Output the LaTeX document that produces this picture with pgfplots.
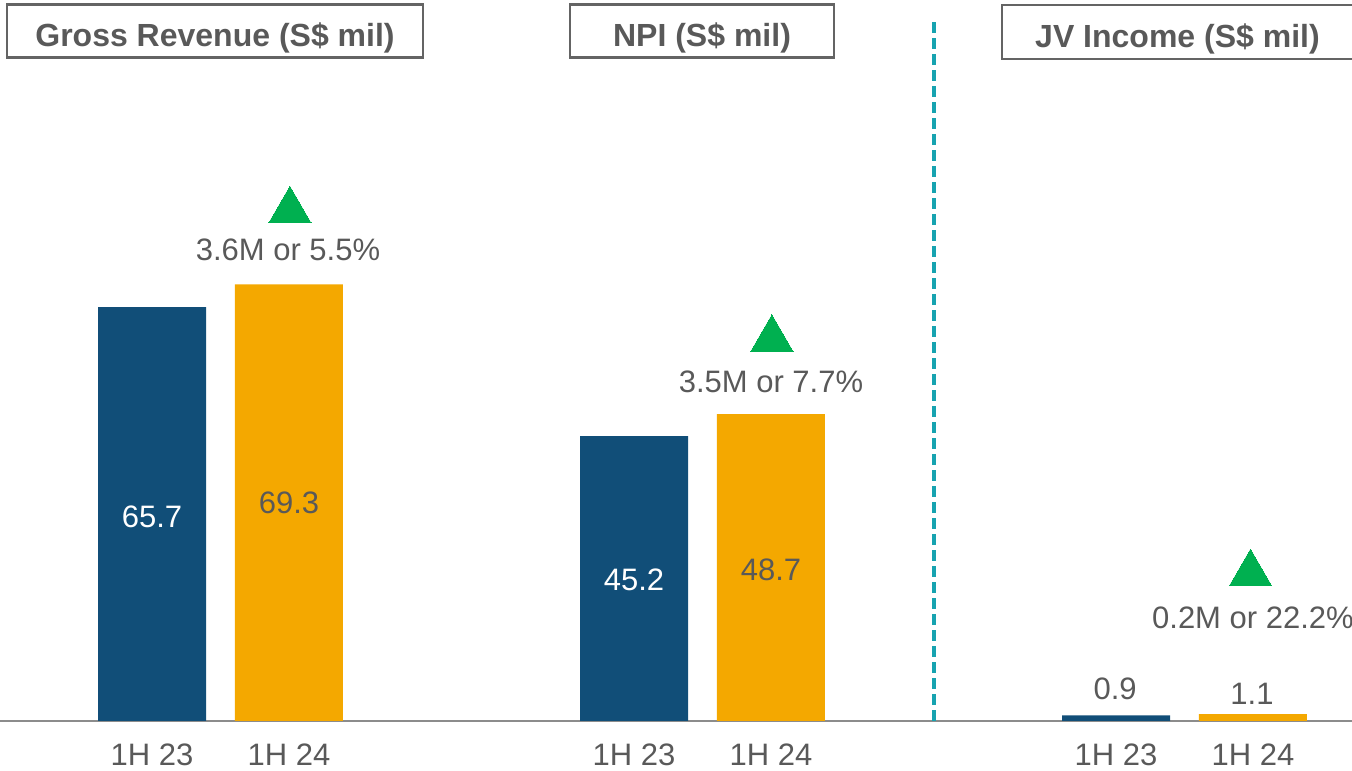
\documentclass[border=0pt]{standalone}
\usepackage{fontspec}
\setmainfont{Liberation Sans}
\usepackage{pgfplots}
\pgfplotsset{compat=1.18}
\definecolor{navy}{RGB}{17,78,120}
\definecolor{amber}{RGB}{244,168,0}
\definecolor{upgreen}{RGB}{0,176,80}
\definecolor{tealdash}{RGB}{23,163,176}
\definecolor{txtgray}{RGB}{89,89,89}
\definecolor{boxgray}{RGB}{100,100,100}
\newcommand{\lbl}{\fontsize{15.5}{18}\selectfont}
\newcommand{\ttl}{\fontsize{16}{19}\selectfont\bfseries}
\tikzset{titlebox/.style={draw=boxgray, line width=1.2pt, minimum height=26.5pt,
    text height=15.4pt, text depth=0pt, font=\ttl, text=txtgray}}
\begin{document}
\begin{tikzpicture}
\begin{axis}[
    scale only axis,
    width=676pt, height=385.5pt,
    xmin=-0.4575, xmax=2.3475,
    ymin=-7.937, ymax=114.44,
    axis x line=middle, axis y line=none,
    axis line style={-, draw=gray!90, line width=0.8pt},
    xtick={-0.142,0.142,0.858,1.142,1.858,2.142},
    xticklabels={1H 23,1H 24,1H 23,1H 24,1H 23,1H 24},
    major tick length=0pt,
    xticklabel style={anchor=base, yshift=-22.5pt, font=\lbl, text=txtgray},
    clip=false,
]
% 1H 23
\addplot[ybar, bar width=0.2241, fill=navy, draw=none]
    coordinates {(-0.142,65.7) (0.858,45.2) (1.858,0.9)};
% 1H 24
\addplot[ybar, bar width=0.2241, fill=amber, draw=none]
    coordinates {(0.142,69.3) (1.142,48.7) (2.142,1.1)};
% growth markers
\addplot[only marks, mark=triangle*, mark size=12.2pt, color=upgreen,
    mark options={line width=0pt}]
    coordinates {(0.144,81.0) (1.144,60.6) (2.137,23.4)};
% divider
\addplot[tealdash, line width=1.75pt, dash pattern=on 5.5pt off 2.5pt]
    coordinates {(1.480,0) (1.480,111.0)};

\node[font=\lbl, text=white]   at (axis cs:-0.142,32.4) {65.7};
\node[font=\lbl, text=txtgray] at (axis cs:0.142,34.6)  {69.3};
\node[font=\lbl, text=white]   at (axis cs:0.858,22.4)  {45.2};
\node[font=\lbl, text=txtgray] at (axis cs:1.142,24.0)  {48.7};
\node[font=\lbl, text=txtgray] at (axis cs:1.856,5.1)   {0.9};
\node[font=\lbl, text=txtgray] at (axis cs:2.140,4.3)   {1.1};

\node[font=\lbl, text=txtgray] at (axis cs:0.140,74.8) {3.6M or 5.5\%};
\node[font=\lbl, text=txtgray] at (axis cs:1.142,53.8) {3.5M or 7.7\%};
\node[font=\lbl, text=txtgray] at (axis cs:2.142,16.3) {0.2M or 22.2\%};

\node[titlebox, minimum width=208pt] at (axis cs:-0.0114,109.5) {Gross Revenue (S\$ mil)};
\node[titlebox, minimum width=132pt] at (axis cs:0.999,109.5) {NPI (S\$ mil)};
\node[titlebox, minimum width=190pt, minimum height=27pt] at (axis cs:2.0155,109.4) {JV Income (S\$ mil)\hspace*{14.5pt}};
\end{axis}
\pgfresetboundingbox
\path (current axis.south west) rectangle (current axis.north east);
\end{tikzpicture}
\end{document}
